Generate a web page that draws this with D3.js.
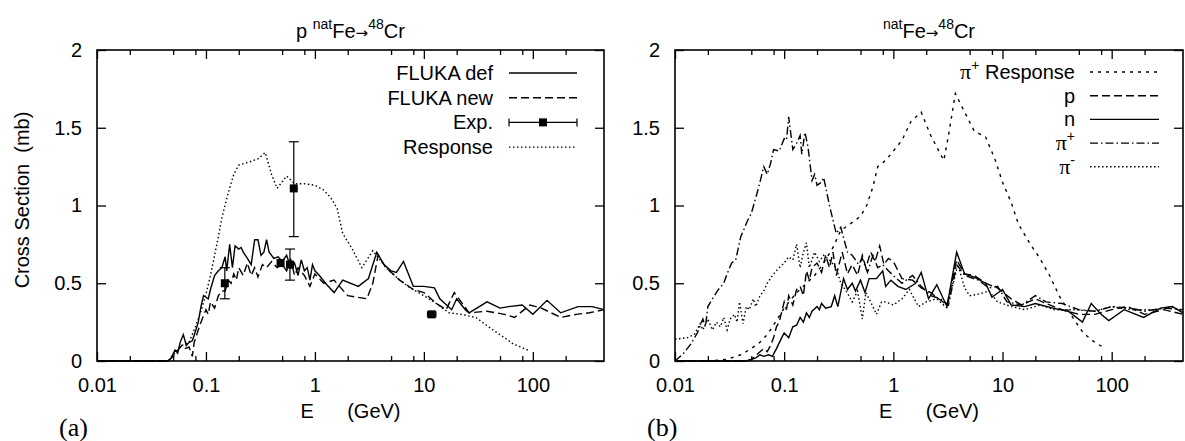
<!DOCTYPE html>
<html>
<head>
<meta charset="utf-8">
<script src="https://cdn.jsdelivr.net/npm/d3@7"></script>
<style>
body { margin: 0; background: #fff; }
svg { display: block; font-family: "Liberation Sans", Arial, sans-serif; }
</style>
</head>
<body>
<svg id="chart" width="1185" height="441"></svg>
<script>
// ---- data (E in GeV, cross section in mb) ----
const flukaDef = [[0.01,0],[0.045,0],[0.048,0.02],[0.052,0.07],[0.055,0.05],[0.058,0.12],[0.062,0.17],[0.066,0.1],[0.07,0.12],[0.075,0.13],[0.08,0.19],[0.085,0.25],[0.09,0.35],[0.095,0.42],[0.1,0.41],[0.105,0.4],[0.11,0.46],[0.12,0.55],[0.13,0.58],[0.14,0.6],[0.15,0.67],[0.155,0.58],[0.165,0.75],[0.175,0.6],[0.185,0.74],[0.2,0.72],[0.21,0.73],[0.22,0.7],[0.24,0.66],[0.26,0.62],[0.28,0.78],[0.3,0.78],[0.32,0.68],[0.34,0.7],[0.36,0.78],[0.38,0.7],[0.42,0.66],[0.46,0.67],[0.5,0.64],[0.55,0.68],[0.6,0.6],[0.65,0.63],[0.7,0.55],[0.75,0.65],[0.8,0.58],[0.85,0.6],[0.9,0.52],[0.95,0.62],[1.0,0.58],[1.1,0.55],[1.25,0.5],[1.5,0.44],[1.8,0.52],[2.5,0.48],[3.1,0.53],[3.7,0.7],[4.3,0.62],[5,0.58],[5.6,0.57],[6.5,0.64],[8,0.48],[10,0.48],[12.5,0.47],[14,0.4],[18,0.33],[20,0.4],[24,0.33],[26,0.31],[38,0.38],[50,0.34],[60,0.35],[80,0.36],[100,0.3],[135,0.39],[180,0.31],[260,0.35],[350,0.35],[450,0.33]];
const flukaNew = [[0.01,0],[0.045,0],[0.05,0.03],[0.055,0.07],[0.06,0.1],[0.065,0.08],[0.07,0.09],[0.075,0.03],[0.078,0.12],[0.085,0.2],[0.09,0.25],[0.1,0.33],[0.105,0.3],[0.11,0.38],[0.12,0.34],[0.13,0.42],[0.14,0.45],[0.15,0.45],[0.16,0.52],[0.17,0.5],[0.18,0.56],[0.19,0.52],[0.2,0.6],[0.22,0.55],[0.24,0.63],[0.26,0.55],[0.28,0.6],[0.3,0.54],[0.33,0.62],[0.36,0.6],[0.4,0.64],[0.45,0.6],[0.5,0.62],[0.55,0.58],[0.6,0.65],[0.65,0.55],[0.7,0.6],[0.8,0.55],[0.9,0.48],[1.0,0.56],[1.2,0.5],[1.5,0.52],[2.0,0.42],[3.0,0.4],[3.4,0.5],[3.8,0.68],[4.5,0.6],[6,0.52],[8,0.46],[10,0.44],[13,0.37],[16,0.33],[19,0.44],[22,0.38],[26,0.31],[38,0.32],[55,0.3],[68,0.28],[94,0.36],[120,0.34],[180,0.28],[250,0.3],[330,0.31],[450,0.33]];
const responseA = [[0.01,0],[0.045,0],[0.05,0.04],[0.06,0.1],[0.07,0.12],[0.08,0.22],[0.09,0.32],[0.1,0.43],[0.11,0.55],[0.12,0.68],[0.13,0.8],[0.14,0.92],[0.16,1.08],[0.18,1.2],[0.2,1.26],[0.25,1.28],[0.3,1.3],[0.35,1.34],[0.4,1.2],[0.45,1.11],[0.55,1.19],[0.65,1.14],[0.8,1.14],[1.0,1.13],[1.2,1.1],[1.4,1.05],[1.6,0.98],[1.8,0.82],[2.2,0.72],[2.7,0.6],[3.4,0.71],[4.5,0.6],[6,0.52],[7.5,0.47],[10,0.42],[13,0.37],[17,0.31],[22,0.3],[30,0.28],[43,0.2],[55,0.15],[66,0.11],[90,0.07]];
const expE = [0.149, 0.484, 0.59, 0.64, 11.8];
const expV = [0.5, 0.63, 0.62, 1.11, 0.3];
const expLo = [0.4, 0.63, 0.52, 0.8, 0.3];
const expHi = [0.6, 0.63, 0.72, 1.41, 0.3];
const expELo = [0.149, 0.484, 0.59, 0.64, 10.8];
const expEHi = [0.149, 0.484, 0.59, 0.64, 12.9];

const piResponse = [[0.01,0],[0.02,0],[0.03,0.01],[0.04,0.04],[0.05,0.08],[0.06,0.12],[0.07,0.17],[0.085,0.26],[0.1,0.34],[0.13,0.44],[0.16,0.5],[0.19,0.55],[0.23,0.63],[0.28,0.73],[0.33,0.84],[0.4,0.88],[0.5,0.93],[0.57,1.0],[0.65,1.12],[0.72,1.25],[0.85,1.29],[1.0,1.35],[1.2,1.42],[1.45,1.54],[1.8,1.6],[2.2,1.45],[2.9,1.29],[3.2,1.45],[3.7,1.72],[4.5,1.6],[5.5,1.48],[7.0,1.44],[8.5,1.3],[10,1.15],[12,1.02],[14,0.88],[18,0.75],[22,0.66],[27,0.55],[33,0.42],[42,0.3],[55,0.18],[70,0.12],[88,0.08]];
const pSeries = [[0.01,0],[0.045,0],[0.05,0.01],[0.058,0.05],[0.065,0.08],[0.07,0.06],[0.075,0.1],[0.08,0.15],[0.085,0.22],[0.09,0.25],[0.1,0.38],[0.105,0.33],[0.11,0.42],[0.12,0.36],[0.13,0.46],[0.14,0.48],[0.15,0.42],[0.16,0.58],[0.17,0.52],[0.18,0.6],[0.2,0.63],[0.22,0.57],[0.24,0.68],[0.26,0.6],[0.28,0.7],[0.3,0.55],[0.34,0.7],[0.38,0.56],[0.42,0.62],[0.47,0.55],[0.52,0.68],[0.56,0.6],[0.62,0.7],[0.68,0.64],[0.75,0.74],[0.82,0.62],[0.9,0.66],[1.0,0.64],[1.2,0.53],[1.5,0.52],[1.8,0.47],[2.2,0.44],[2.6,0.4],[3.1,0.36],[3.8,0.65],[4.5,0.56],[5.5,0.55],[7,0.5],[9,0.47],[12,0.4],[15,0.36],[20,0.4],[25,0.37],[35,0.33],[50,0.3],[70,0.3],[100,0.33],[140,0.35],[200,0.3],[300,0.33],[450,0.3]];
const nSeries = [[0.01,0],[0.045,0],[0.055,0.02],[0.06,0.04],[0.065,0.03],[0.072,0.04],[0.078,0.03],[0.085,0.08],[0.095,0.15],[0.1,0.18],[0.11,0.15],[0.12,0.22],[0.13,0.23],[0.14,0.28],[0.15,0.25],[0.16,0.31],[0.17,0.28],[0.18,0.32],[0.2,0.35],[0.21,0.33],[0.22,0.37],[0.24,0.34],[0.27,0.35],[0.29,0.42],[0.31,0.35],[0.35,0.53],[0.38,0.46],[0.42,0.5],[0.45,0.45],[0.5,0.52],[0.55,0.44],[0.6,0.53],[0.7,0.53],[0.8,0.58],[0.85,0.48],[0.95,0.52],[1.1,0.48],[1.3,0.46],[1.6,0.5],[1.8,0.57],[2.1,0.4],[2.5,0.49],[3.1,0.35],[3.8,0.7],[4.5,0.56],[5.5,0.54],[7,0.5],[8,0.41],[10,0.46],[12,0.36],[16,0.35],[20,0.37],[29,0.34],[40,0.32],[54,0.25],[65,0.37],[80,0.3],[94,0.26],[130,0.33],[196,0.28],[280,0.34],[360,0.35],[450,0.31]];
const piPlus = [[0.01,0],[0.012,0.05],[0.014,0.11],[0.016,0.18],[0.018,0.27],[0.019,0.22],[0.02,0.35],[0.022,0.4],[0.025,0.46],[0.028,0.5],[0.03,0.56],[0.033,0.63],[0.036,0.65],[0.04,0.8],[0.043,0.85],[0.046,0.9],[0.05,0.95],[0.055,1.05],[0.06,1.15],[0.065,1.25],[0.07,1.2],[0.075,1.27],[0.08,1.36],[0.09,1.35],[0.1,1.43],[0.105,1.42],[0.11,1.57],[0.12,1.36],[0.13,1.4],[0.14,1.45],[0.145,1.33],[0.155,1.47],[0.165,1.38],[0.18,1.16],[0.19,1.2],[0.2,1.13],[0.22,1.15],[0.23,1.18],[0.26,1.0],[0.3,0.82],[0.33,0.86],[0.38,0.7],[0.42,0.68],[0.48,0.62],[0.52,0.66],[0.58,0.57],[0.65,0.68],[0.72,0.6],[0.8,0.62],[0.9,0.58],[1.0,0.55],[1.2,0.5],[1.5,0.55],[1.8,0.48],[2.2,0.42],[2.7,0.4],[3.2,0.36],[3.8,0.62],[4.5,0.55],[6,0.52],[7.5,0.47],[9,0.48],[11,0.38],[15,0.36],[20,0.42],[25,0.38],[35,0.37],[50,0.33],[70,0.32],[100,0.35],[150,0.34],[200,0.32],[300,0.34],[450,0.33]];
const piMinus = [[0.01,0.14],[0.013,0.15],[0.015,0.17],[0.017,0.24],[0.018,0.2],[0.02,0.27],[0.022,0.2],[0.024,0.25],[0.026,0.22],[0.028,0.28],[0.03,0.2],[0.032,0.27],[0.035,0.3],[0.037,0.25],[0.039,0.38],[0.042,0.24],[0.045,0.35],[0.048,0.33],[0.052,0.4],[0.055,0.35],[0.06,0.42],[0.065,0.45],[0.07,0.5],[0.08,0.56],[0.09,0.6],[0.1,0.63],[0.11,0.67],[0.12,0.65],[0.13,0.75],[0.14,0.6],[0.15,0.7],[0.16,0.76],[0.17,0.6],[0.19,0.7],[0.21,0.64],[0.23,0.68],[0.26,0.65],[0.3,0.6],[0.33,0.5],[0.37,0.45],[0.42,0.38],[0.47,0.45],[0.52,0.27],[0.56,0.44],[0.62,0.38],[0.7,0.3],[0.78,0.38],[0.85,0.38],[1.0,0.36],[1.2,0.4],[1.4,0.46],[1.7,0.35],[2.0,0.38],[2.5,0.4],[3.1,0.34],[3.9,0.62],[4.5,0.47],[5,0.42],[6,0.43],[7.5,0.45],[9,0.38],[12,0.35],[16,0.33],[22,0.36],[30,0.33],[45,0.33],[70,0.32],[100,0.35],[150,0.33],[250,0.33],[350,0.35],[450,0.32]];

const xMajor = [0.01, 0.1, 1, 10, 100];
const xMinor = [0.02, 0.05, 0.08, 0.2, 0.5, 0.8, 2, 5, 8, 20, 50, 80, 200];
const yTicks = [0, 0.5, 1, 1.5, 2];

const dashes = { solid: null, dashed: '8,4', dotted: '1.5,2.5', short: '3,5', dashdot: '8,3,1.5,3' };

const svg = d3.select('#chart');
const fs = 20;

// text with superscripts: parts = [text, kind]
const rich = (t, parts) => {
  let off = 0;
  parts.forEach(([s, k]) => {
    const sp = t.append('tspan').text(s);
    let target = 0;
    if (k === 's') { sp.attr('font-size', 14); target = -9; }
    if (k === 'a') { sp.attr('font-family', '"DejaVu Sans", sans-serif').attr('font-size', 15); target = 0; }
    if (k === 'g') sp.attr('font-family', '"Liberation Serif", serif').attr('font-size', 22);
    if (target !== off) sp.attr('dy', target - off);
    off = target;
  });
  return t;
};

function panel(cfg) {
  const x = d3.scaleLog().domain([0.01, 450]).range([cfg.x0, cfg.x1]);
  const y = d3.scaleLinear().domain([0, 2]).range([361, 50]);
  const g = svg.append('g');

  const ax = (gen, vals, size, fmt, pad, tr) => {
    g.append('g')
      .attr('transform', tr)
      .call(gen.tickValues(vals).tickSizeInner(-size).tickSizeOuter(0).tickPadding(pad).tickFormat(fmt))
      .call(s => s.select('.domain').remove())
      .call(s => s.selectAll('line').attr('stroke', '#000').attr('stroke-width', 1.3))
      .call(s => s.selectAll('text').attr('font-size', fs).attr('font-family', null).attr('fill', '#000'));
  };
  const none = () => '';
  ax(d3.axisBottom(x), xMajor, 9, d => String(d), 17, 'translate(0,361)');
  ax(d3.axisBottom(x), xMinor, 5, none, 0, 'translate(0,361)');
  ax(d3.axisTop(x), xMajor, 9, none, 0, 'translate(0,50)');
  ax(d3.axisTop(x), xMinor, 5, none, 0, 'translate(0,50)');
  ax(d3.axisLeft(y), yTicks, 9, d => String(d), 15, `translate(${cfg.x0},0)`);
  ax(d3.axisRight(y), yTicks, 9, none, 0, `translate(${cfg.x1},0)`);

  const line = d3.line().x(d => x(d[0])).y(d => y(d[1]));
  cfg.series.forEach(s => {
    g.append('path').datum(s.data)
      .attr('d', line).attr('fill', 'none').attr('stroke', '#000')
      .attr('stroke-width', 1.4).attr('stroke-dasharray', dashes[s.style]);
  });

  if (cfg.exp) {
    const pts = expE.map((e, i) => ({ e, v: expV[i], lo: expLo[i], hi: expHi[i], el: expELo[i], eh: expEHi[i] }));
    const eg = g.append('g').attr('stroke', '#000').attr('stroke-width', 1.2);
    pts.forEach(p => {
      if (p.hi > p.lo) {
        eg.append('line').attr('x1', x(p.e)).attr('x2', x(p.e)).attr('y1', y(p.lo)).attr('y2', y(p.hi));
        [p.lo, p.hi].forEach(v => eg.append('line').attr('x1', x(p.e) - 5).attr('x2', x(p.e) + 5).attr('y1', y(v)).attr('y2', y(v)));
      }
      if (p.eh > p.el) {
        eg.append('line').attr('x1', x(p.el)).attr('x2', x(p.eh)).attr('y1', y(p.v)).attr('y2', y(p.v));
        [p.el, p.eh].forEach(e => eg.append('line').attr('x1', x(e)).attr('x2', x(e)).attr('y1', y(p.v) - 3).attr('y2', y(p.v) + 3));
      }
      g.append('rect').attr('x', x(p.e) - 4).attr('y', y(p.v) - 4).attr('width', 8).attr('height', 8).attr('fill', '#000');
    });
  }

  // frame
  g.append('rect').attr('x', cfg.x0).attr('y', 50).attr('width', cfg.x1 - cfg.x0).attr('height', 311)
    .attr('fill', 'none').attr('stroke', '#000').attr('stroke-width', 1.6);

  // title
  rich(g.append('text').attr('x', (cfg.x0 + cfg.x1) / 2).attr('y', 38).attr('text-anchor', 'middle').attr('font-size', fs), cfg.title);

  // legend
  cfg.legend.forEach((l, i) => {
    const ly = cfg.ly0 + i * cfg.ldy;
    rich(g.append('text').attr('x', cfg.lt).attr('y', ly).attr('dy', '0.35em').attr('text-anchor', 'end').attr('font-size', fs), l.label);
    if (l.style === 'exp') {
      const m = (cfg.l1 + cfg.l2) / 2;
      g.append('line').attr('x1', cfg.l1).attr('x2', cfg.l2).attr('y1', ly).attr('y2', ly).attr('stroke', '#000').attr('stroke-width', 1.2);
      [cfg.l1, cfg.l2].forEach(v => g.append('line').attr('x1', v).attr('x2', v).attr('y1', ly - 4).attr('y2', ly + 4).attr('stroke', '#000').attr('stroke-width', 1.2));
      g.append('rect').attr('x', m - 4).attr('y', ly - 4).attr('width', 8).attr('height', 8).attr('fill', '#000');
    } else {
      g.append('line').attr('x1', cfg.l1).attr('x2', cfg.l2).attr('y1', ly).attr('y2', ly)
        .attr('stroke', '#000').attr('stroke-width', 1.4).attr('stroke-dasharray', dashes[l.style]);
    }
  });

  // axis labels
  g.append('text').attr('x', (cfg.x0 + cfg.x1) / 2).attr('y', 418).attr('text-anchor', 'middle')
    .attr('font-size', fs).style('white-space', 'pre').text('E      (GeV)');
  g.append('text').attr('x', cfg.tagX).attr('y', 436).attr('font-size', 26)
    .attr('font-family', '"Liberation Serif", serif').text(cfg.tag);
}

panel({
  x0: 97, x1: 604,
  title: [['p '], ['nat', 's'], ['Fe'], ['\u2192', 'a'], ['48', 's'], ['Cr']],
  series: [
    { data: responseA, style: 'dotted' },
    { data: flukaNew, style: 'dashed' },
    { data: flukaDef, style: 'solid' }
  ],
  exp: true,
  legend: [
    { label: [['FLUKA def']], style: 'solid' },
    { label: [['FLUKA new']], style: 'dashed' },
    { label: [['Exp.']], style: 'exp' },
    { label: [['Response']], style: 'dotted' }
  ],
  lt: 493, l1: 509, l2: 577, ly0: 73, ldy: 24.7,
  tag: '(a)', tagX: 59
});

panel({
  x0: 675, x1: 1183,
  title: [['nat', 's'], ['Fe'], ['\u2192', 'a'], ['48', 's'], ['Cr']],
  series: [
    { data: piResponse, style: 'short' },
    { data: pSeries, style: 'dashed' },
    { data: piMinus, style: 'dotted' },
    { data: piPlus, style: 'dashdot' },
    { data: nSeries, style: 'solid' }
  ],
  exp: false,
  legend: [
    { label: [['\u03c0', 'g'], ['+', 's'], [' Response']], style: 'short' },
    { label: [['p']], style: 'dashed' },
    { label: [['n']], style: 'solid' },
    { label: [['\u03c0', 'g'], ['+', 's']], style: 'dashdot' },
    { label: [['\u03c0', 'g'], ['-', 's']], style: 'dotted' }
  ],
  lt: 1075, l1: 1090, l2: 1159, ly0: 72, ldy: 23.7,
  tag: '(b)', tagX: 647
});

svg.append('text').attr('transform', 'translate(22,200) rotate(-90)').attr('text-anchor', 'middle')
  .attr('dy', '0.35em').attr('font-size', fs).style('white-space', 'pre').text('Cross Section  (mb)');
</script>
</body>
</html>
